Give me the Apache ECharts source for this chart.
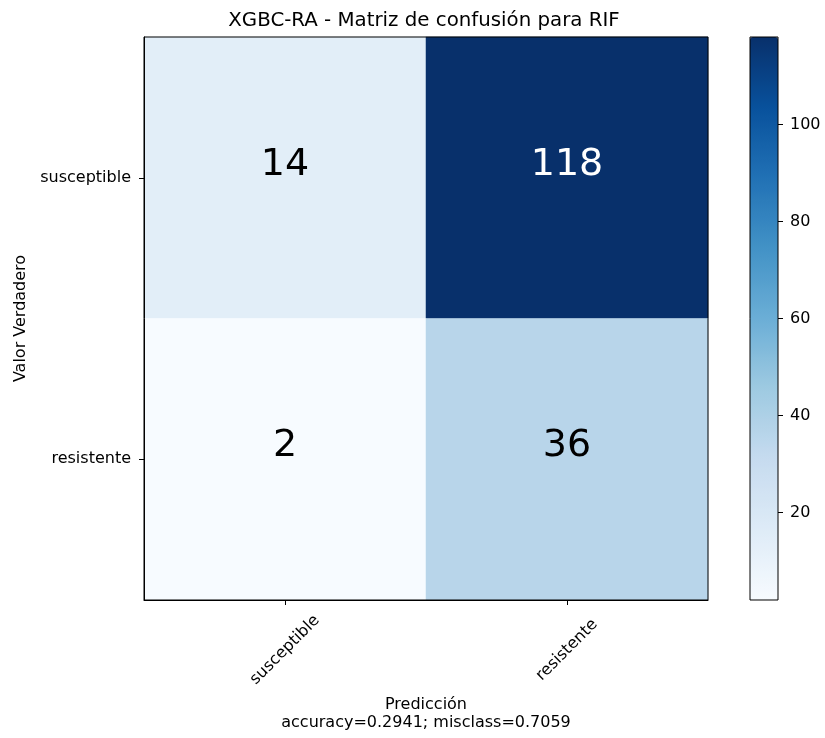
<!DOCTYPE html>
<html>
<head>
<meta charset="utf-8">
<script src="https://cdn.jsdelivr.net/npm/echarts@6/dist/echarts.min.js"></script>
<style>
  html, body { margin: 0; padding: 0; background: #fff; }
  #chart { width: 825px; height: 738px; }
</style>
</head>
<body>
<div id="chart"></div>
<script>
// Confusion matrix for the RIF classifier (rows = true class, columns = predicted class)
const predLabels = ['susceptible', 'resistente'];
const trueLabels = ['susceptible', 'resistente'];
const matrix = [
  [14, 118],
  [2, 36]
];
const colorbarTicks = [20, 40, 60, 80, 100];
const titleText = 'XGBC-RA - Matriz de confusión para RIF';
const xName = 'Predicción';
const yName = 'Valor Verdadero';

// Matplotlib "Blues" colormap anchors
const blues = ['#f7fbff', '#deebf7', '#c6dbef', '#9ecae1', '#6baed6',
               '#4292c6', '#2171b5', '#08519c', '#08306b'];

const FONT = 'DejaVu Sans';
const flat = matrix.flat();
const vMin = Math.min(...flat);
const vMax = Math.max(...flat);
const total = flat.reduce((a, b) => a + b, 0);
const correct = matrix.reduce((s, row, i) => s + row[i], 0);
const accuracy = correct / total;
const misclass = 1 - accuracy;
const thresh = vMax / 2;

const cells = [];
matrix.forEach((row, i) => {
  row.forEach((v, j) => {
    cells.push({
      value: [j, i, v],
      label: { color: v > thresh ? '#ffffff' : '#000000' }
    });
  });
});

const chart = echarts.init(document.getElementById('chart'), null, { renderer: 'canvas' });

const option = {
  animation: false,
  backgroundColor: '#ffffff',
  textStyle: { fontFamily: FONT },
  title: {
    text: titleText,
    left: 419,
    textAlign: 'center',
    top: 6,
    textStyle: { fontFamily: FONT, fontSize: 19.8, fontWeight: 'normal', color: '#000' }
  },
  grid: [
    { left: 144, top: 37, width: 564, height: 563, show: true, z: 10,
      backgroundColor: 'transparent', borderColor: '#000', borderWidth: 1 },
    { left: 750, top: 37, width: 28, height: 563, show: true, z: 10,
      backgroundColor: 'transparent', borderColor: '#000', borderWidth: 1 }
  ],
  xAxis: [
    {
      type: 'category', gridIndex: 0, data: predLabels, position: 'bottom', z: 10,
      axisLine: { show: true, lineStyle: { color: '#000', width: 1 } },
      axisTick: { show: true, alignWithLabel: true, length: 5, lineStyle: { color: '#000' } },
      axisLabel: { rotate: 45, align: 'center', verticalAlign: 'middle', margin: 50,
                   fontFamily: FONT, fontSize: 16, color: '#000' },
      splitLine: { show: false },
      name: xName + '\naccuracy=' + accuracy.toFixed(4) + '; misclass=' + misclass.toFixed(4),
      nameLocation: 'middle', nameGap: 96,
      nameTextStyle: { fontFamily: FONT, fontSize: 16, color: '#000', lineHeight: 18 }
    },
    {
      type: 'category', gridIndex: 1, data: [''], show: false
    }
  ],
  yAxis: [
    {
      type: 'category', gridIndex: 0, data: trueLabels, inverse: true, z: 10,
      axisLine: { show: true, lineStyle: { color: '#000', width: 1 } },
      axisTick: { show: true, alignWithLabel: true, length: 5, lineStyle: { color: '#000' } },
      axisLabel: { margin: 13, fontFamily: FONT, fontSize: 16, color: '#000' },
      splitLine: { show: false },
      name: yName, nameLocation: 'middle', nameGap: 115, nameRotate: 90,
      nameTextStyle: { fontFamily: FONT, fontSize: 16, color: '#000' }
    },
    {
      type: 'value', gridIndex: 1, min: vMin, max: vMax, position: 'right', z: 10,
      axisLine: { show: false },
      axisTick: { show: true, length: 5, customValues: colorbarTicks, lineStyle: { color: '#000' } },
      axisLabel: { show: true, margin: 12, customValues: colorbarTicks,
                   fontFamily: FONT, fontSize: 16, color: '#000' },
      splitLine: { show: false }
    }
  ],
  visualMap: {
    type: 'continuous',
    min: vMin, max: vMax,
    seriesIndex: 0,
    orient: 'vertical',
    left: 750, top: 37,
    itemWidth: 28, itemHeight: 563,
    padding: 0,
    calculable: false,
    hoverLink: false,
    text: null,
    inRange: { color: blues }
  },
  series: [
    {
      type: 'heatmap',
      xAxisIndex: 0, yAxisIndex: 0,
      data: cells,
      itemStyle: { borderWidth: 0 },
      label: { show: true, fontFamily: FONT, fontSize: 38,
               formatter: p => String(p.value[2]), offset: [0, -13] },
      emphasis: { disabled: true }
    }
  ]
};

chart.setOption(option);
</script>
</body>
</html>
